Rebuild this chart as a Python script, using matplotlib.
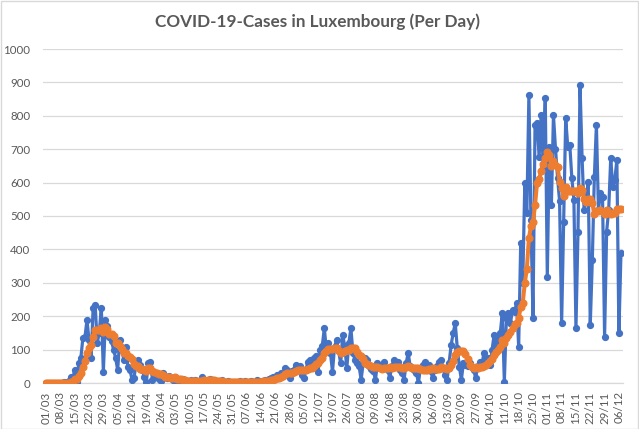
import matplotlib
matplotlib.use("Agg")
import matplotlib.pyplot as plt
import pandas as pd
from matplotlib.patches import Rectangle

plt.rcParams['font.family'] = ['Lato', 'DejaVu Sans']

start_date = "2020-03-01"

daily_cases = [
    0, 0, 0, 0, 0, 0, 0, 1, 0, 2,
    2, 5, 18, 12, 39, 4, 59, 75, 135, 137,
    189, 128, 75, 224, 234, 120, 150, 226, 34, 190,
    170, 139, 125, 100, 75, 39, 130, 100, 70, 109,
    49, 40, 10, 15, 60, 69, 54, 40, 19, 4,
    59, 64, 10, 28, 18, 12, 6, 30, 18, 15,
    20, 14, 9, 12, 6, 10, 3, 11, 5, 2,
    4, 8, 3, 8, 6, 2, 18, 10, 5, 4,
    12, 3, 2, 6, 5, 2, 8, 4, 1, 5,
    3, 2, 3, 2, 4, 5, 2, 6, 1, 3,
    6, 2, 4, 8, 5, 1, 7, 10, 8, 12,
    15, 19, 15, 25, 20, 30, 28, 44, 38, 15,
    35, 40, 54, 45, 50, 24, 15, 40, 64, 69,
    60, 75, 80, 34, 99, 110, 164, 100, 119, 90,
    34, 109, 129, 95, 59, 144, 110, 44, 120, 164,
    90, 69, 59, 50, 10, 60, 75, 70, 50, 42,
    35, 10, 60, 50, 54, 64, 45, 40, 15, 50,
    69, 55, 64, 40, 30, 10, 60, 89, 50, 45,
    40, 30, 0, 45, 55, 64, 40, 54, 35, 15,
    40, 50, 64, 69, 45, 24, 10, 60, 114, 150,
    179, 104, 49, 10, 60, 55, 50, 60, 49, 39,
    15, 50, 64, 55, 89, 70, 75, 54, 100, 144,
    110, 130, 149, 209, 4, 194, 209, 180, 219, 214,
    239, 109, 418, 300, 598, 508, 862, 488, 194, 772,
    777, 678, 802, 650, 852, 318, 707, 533, 802, 702,
    615, 545, 179, 483, 792, 707, 712, 613, 548, 164,
    453, 892, 673, 518, 548, 603, 174, 368, 618, 772,
    518, 568, 558, 139, 453, 518, 673, 588, 608, 668,
    149, 388,
]

weekly_average = [
    0, 0, 0, 0, 0, 0, 0, 0.1, 0.1, 0.4,
    0.7, 1.4, 4, 6, 11, 12, 20, 30, 49, 66,
    91, 104, 114, 138, 160, 158, 160, 165, 152, 168,
    161, 147, 148, 141, 119, 120, 111, 101, 91, 89,
    82, 77, 73, 56, 50, 50, 42, 41, 38, 37,
    44, 44, 36, 32, 29, 28, 28, 24, 17, 18,
    17, 16, 16, 17, 13, 12, 11, 9, 8, 7,
    6, 6, 5, 6, 5, 5, 7, 8, 7, 8,
    8, 8, 8, 6, 5, 5, 5, 4, 4, 4,
    4, 4, 4, 3, 3, 3, 3, 3, 3, 3,
    4, 4, 3, 4, 4, 4, 5, 5, 6, 7,
    8, 10, 12, 15, 16, 19, 22, 26, 29, 29,
    30, 33, 36, 39, 40, 38, 38, 38, 42, 44,
    46, 50, 58, 60, 69, 75, 89, 95, 101, 102,
    102, 104, 106, 97, 91, 94, 97, 99, 100, 105,
    104, 106, 94, 85, 80, 72, 59, 56, 53, 51,
    49, 49, 49, 45, 43, 45, 45, 46, 47, 45,
    48, 48, 48, 48, 46, 45, 47, 50, 49, 46,
    46, 46, 45, 43, 38, 40, 39, 41, 42, 44,
    43, 43, 43, 47, 45, 44, 43, 46, 55, 67,
    83, 92, 95, 95, 95, 87, 72, 55, 48, 46,
    47, 45, 47, 47, 52, 55, 60, 65, 72, 84,
    92, 98, 109, 128, 121, 134, 144, 154, 166, 176,
    180, 195, 227, 240, 300, 341, 433, 469, 481, 532,
    600, 611, 635, 655, 675, 693, 683, 649, 666, 652,
    647, 603, 583, 560, 588, 575, 576, 576, 576, 574,
    570, 584, 579, 552, 542, 550, 552, 539, 505, 514,
    514, 517, 511, 506, 518, 510, 505, 508, 510, 521,
    522, 520,
]

title_text = "COVID-19-Cases in Luxembourg (Per Day)"
y_ticks = list(range(0, 1001, 100))
label_every = 7

dates = pd.date_range(start_date, periods=len(daily_cases), freq="D")
x = list(range(len(daily_cases)))
x_tick_pos = x[::label_every]
x_tick_labels = [d.strftime("%d/%m") for d in dates[::label_every]]

W, H = 639, 429
fig = plt.figure(figsize=(W / 100, H / 100), dpi=100)
fig.patches.append(Rectangle((0.5 / W, 0.5 / H), 1 - 1.5 / W, 1 - 1.5 / H,
                             transform=fig.transFigure, fill=False,
                             edgecolor="#D9D9D9", linewidth=1))

ax = fig.add_axes([43 / W, (H - 383) / H, 580 / W, 334 / H])

blue = "#4472C4"
orange = "#ED7D31"
grey = "#595959"

ax.plot(x, daily_cases, color=blue, linewidth=2.3, marker="o",
        markersize=4.2, zorder=3, solid_joinstyle="round")
ax.plot(x, weekly_average, color=orange, linewidth=2.9, marker="o",
        markersize=4.8, zorder=4, solid_joinstyle="round")

ax.set_xlim(-1.5, 282)
ax.set_ylim(0, 1000)
ax.set_yticks(y_ticks)
ax.set_yticklabels([str(v) for v in y_ticks])
ax.set_xticks(x_tick_pos)
ax.set_xticklabels(x_tick_labels, rotation=90)

ax.grid(axis="y", color="#D9D9D9", linewidth=0.9, zorder=0)
ax.set_axisbelow(True)
for s in ["top", "right", "left"]:
    ax.spines[s].set_visible(False)
ax.spines["bottom"].set_color("#D9D9D9")
ax.spines["bottom"].set_linewidth(0.9)
ax.tick_params(axis="both", length=0, colors=grey, labelsize=8.3)
ax.tick_params(axis="y", pad=9)
ax.tick_params(axis="x", pad=6)

fig.text(0.497, 1 - 22 / H, title_text, ha="center", va="center",
         fontsize=12.3, fontweight="bold", color=grey)

fig.savefig("out.png", dpi=100)
